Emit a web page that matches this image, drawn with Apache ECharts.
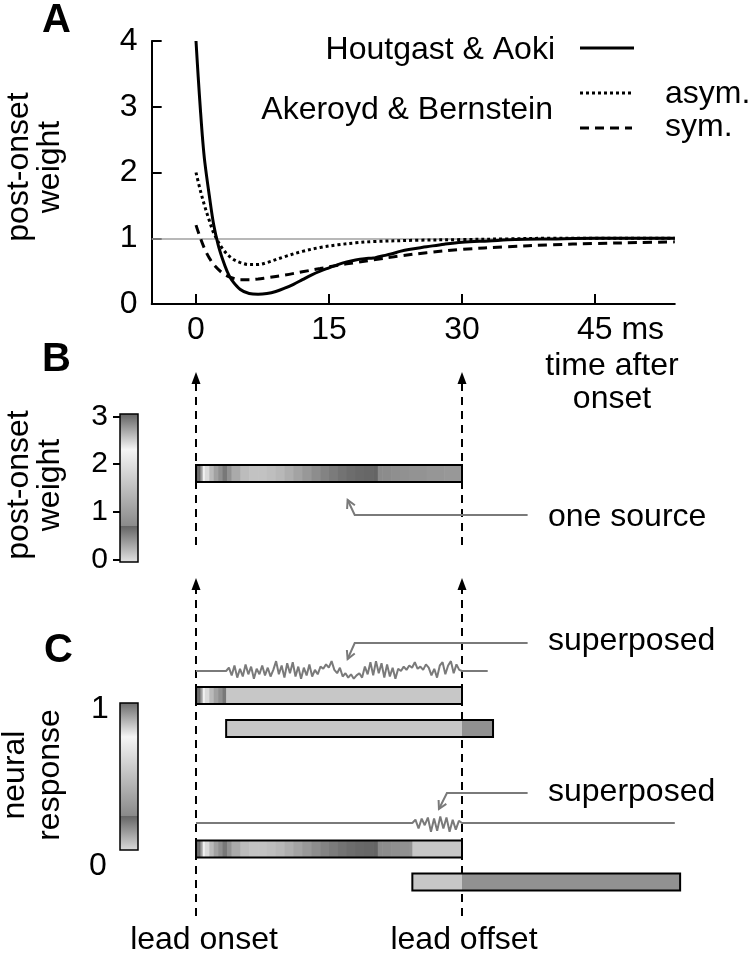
<!DOCTYPE html>
<html><head><meta charset="utf-8">
<script src="https://cdn.jsdelivr.net/npm/echarts@6/dist/echarts.min.js"></script>
<style>html,body{margin:0;padding:0;background:#fff}#c{width:750px;height:954px}</style>
</head><body><div id="c"></div>
<script>
// ---------------- data ----------------
const timeTicks = [0, 15, 30, 45];
const colorbarWeightTicks = [0, 1, 2, 3];
// Panel A: post-onset weight (Houtgast & Aoki, solid)
const houtgastT = [0,0.25,0.5,0.75,1,1.5,2,2.5,3,3.5,4,5,6,7,8,9,10,11,12,13,14,15,16,17,18,19,20,20.5,21,22,23,24,26,28,30,33,36,40,45,50,54];
const houtgastW = [4.0,3.45,2.95,2.5,2.15,1.65,1.2,0.9,0.68,0.5,0.37,0.22,0.16,0.15,0.16,0.19,0.24,0.3,0.37,0.44,0.5,0.55,0.6,0.64,0.67,0.69,0.70,0.715,0.73,0.76,0.8,0.83,0.87,0.91,0.94,0.96,0.98,0.99,1.0,1.0,1.0];
// Akeroyd & Bernstein, asymmetric (dotted)
const asymT = [0,0.5,1,1.5,2,3,4,5,6,7,8,10,12,14,16,18,20,25,30,35,40,45,50,54];
const asymW = [2.0,1.72,1.48,1.27,1.08,0.84,0.7,0.63,0.6,0.6,0.63,0.72,0.8,0.86,0.9,0.93,0.95,0.97,0.98,0.99,1.0,1.0,1.0,1.0];
// Akeroyd & Bernstein, symmetric (dashed)
const symT = [0,0.5,1,1.5,2,3,4,5,6,7,8,10,12,14,16,18,20,23,26,30,35,40,45,50,54];
const symW = [1.2,1.0,0.83,0.7,0.6,0.47,0.4,0.37,0.37,0.38,0.4,0.44,0.49,0.54,0.59,0.63,0.67,0.73,0.78,0.83,0.87,0.9,0.92,0.935,0.945];
// Panels B/C timing (ms)
const leadOnset = 0, leadOffset = 30;
const lag1 = [3.4, 33.5];
const lag2 = [24.4, 54.6];
const respLight = 0.54;   // neural response (0..1) of light-gray segments
const respMid = 0.27;     // neural response of mid-gray segments
// superposed response traces (fluctuation, arbitrary units)
const trace1 = {start: 0, noiseFrom: 3.4, noiseTo: 30, end: 32.9};
const noise1 = [0.3,-0.4,0.5,-0.6,0.2,-0.5,0.6,-0.3,0.4,-0.7,
  0.2,-0.3,0.5,-0.4,0.3,-0.5,0.1,0.9,-0.3,0.5,
  -0.6,0.7,-0.2,0.8,-0.5,0.4,-0.7,0.3,-0.4,0.6,
  -0.5,0.1,-0.3,0.4,0.2,0.6,0.3,0.9,0.1,-0.2,
  0.3,-0.5,-0.2,-0.6,-0.3,-0.7,-0.4,-0.2,-0.6,0.4,
  -0.3,0.8,-0.4,0.9,-0.2,0.7,-0.6,0.6,-0.5,0.3,
  -0.7,0.2,0.0,0.4,0.1,0.5,0.3,0.8,0.2,0.4,
  0.1,0.6,0.3,-0.4,0.2,-0.6,0.5,0.8,-0.3,0.5,
  0.9,-0.2,0.6,0.1];
const trace2 = {start: 0, noiseFrom: 24.4, noiseTo: 30, end: 54};
const noise2 = [0.3,-0.5,0.4,-0.2,0.5,-0.8,0.4,-0.7,0.6,-0.5,0.5,-0.8,0.3,-0.6,0.2];
// grey colormap (weight units 0..3)
const cmapValues = [0, 0.71, 0.71, 2.3, 3];
const cmapGrays  = [220, 100, 138, 245, 105];

// ---------------- layout ----------------
const FONT = '"Liberation Sans", Arial, sans-serif';
const X0 = 196, PXMS = 8.8667, XMIN = -5, XMAX = 54;
const GL = X0 + XMIN * PXMS, GW = (XMAX - XMIN) * PXMS;
const STRIP_H = 17;
const rowY = {B: 473.5, C1lead: 695.5, C1lag: 728.5, C2lead: 849, C2lag: 882};

function grayOf(w) {
  w = Math.max(0, Math.min(3, w));
  for (let i = 0; i < cmapValues.length - 1; i++) {
    const a = cmapValues[i], b = cmapValues[i + 1];
    if (b > a && w >= a && w <= b) {
      return Math.round(cmapGrays[i] + (w - a) / (b - a) * (cmapGrays[i + 1] - cmapGrays[i]));
    }
  }
  return cmapGrays[cmapGrays.length - 1];
}
const grayCss = g => `rgb(${g},${g},${g})`;

// cells of the weight curve between t0 and t1 (weight units)
function curveCells(t0, t1, y) {
  const out = [];
  for (let i = 0; i < houtgastT.length - 1; i++) {
    const a = Math.max(houtgastT[i], t0), b = Math.min(houtgastT[i + 1], t1);
    if (b > a) out.push([a, b, y, (houtgastW[i] + houtgastW[i + 1]) / 2]);
  }
  return out;
}
const cells = [].concat(
  curveCells(leadOnset, leadOffset, rowY.B),
  curveCells(leadOnset, lag1[0], rowY.C1lead),
  [[lag1[0], leadOffset, rowY.C1lead, respLight * 3]],
  [[lag1[0], leadOffset, rowY.C1lag, respLight * 3], [leadOffset, lag1[1], rowY.C1lag, respMid * 3]],
  curveCells(leadOnset, lag2[0], rowY.C2lead),
  [[lag2[0], leadOffset, rowY.C2lead, respLight * 3]],
  [[lag2[0], leadOffset, rowY.C2lag, respLight * 3], [leadOffset, lag2[1], rowY.C2lag, respMid * 3]]
);
const frames = [
  [leadOnset, leadOffset, rowY.B],
  [leadOnset, leadOffset, rowY.C1lead],
  [lag1[0], lag1[1], rowY.C1lag],
  [leadOnset, leadOffset, rowY.C2lead],
  [lag2[0], lag2[1], rowY.C2lag]
];
const dashedArrows = [
  [leadOnset, 545, 372], [leadOffset, 545, 372],
  [leadOnset, 916, 578], [leadOffset, 916, 578]
];
const annotArrows = [
  [37.4, 515, 17.9, 515, 17.1, 500],
  [37.4, 643, 17.9, 643, 17.1, 659],
  [37.4, 793, 28.3, 793, 27.4, 809]
];
function traceData(tr, noise) {
  const pts = [[tr.start, 0], [tr.noiseFrom, 0]];
  const n = noise.length;
  for (let i = 0; i < n; i++) {
    pts.push([tr.noiseFrom + (i + 1) * (tr.noiseTo - tr.noiseFrom) / (n + 1), noise[i]]);
  }
  pts.push([tr.noiseTo, 0], [tr.end, 0]);
  return pts;
}
function gradStops(lo, hi, scale) {
  const st = [{offset: 0, color: grayCss(grayOf(lo * scale))}];
  for (let i = 0; i < cmapValues.length; i++) {
    const off = (cmapValues[i] / scale - lo) / (hi - lo);
    if (off >= 0 && off <= 1) st.push({offset: off, color: grayCss(cmapGrays[i])});
  }
  st.push({offset: 1, color: grayCss(grayOf(hi * scale))});
  return st;
}

// ---------------- chart ----------------
const chart = echarts.init(document.getElementById('c'));
const hidX = (gi, min, max) => ({gridIndex: gi, type: 'value', min, max, show: false});
const hidY = (gi, min, max, inv) => ({gridIndex: gi, type: 'value', min, max, inverse: !!inv, show: false});

const txt = (x, y, text, o = {}) => ({
  type: 'text', x, y, rotation: o.rot || 0, z: 10,
  style: {text, fontSize: o.size || 32, fontFamily: FONT, fontWeight: o.bold ? 'bold' : 'normal',
    fill: '#000', align: o.align || 'center', verticalAlign: 'middle'}
});
const seg = (x1, y1, x2, y2, dash) => ({
  type: 'line', z: 10, shape: {x1, y1, x2, y2},
  style: {stroke: '#000', lineWidth: 3, lineDash: dash || null}
});

chart.setOption({
  animation: false,
  backgroundColor: '#fff',
  grid: [
    {left: GL, width: GW, top: 41, height: 263},
    {left: GL, width: GW, top: 0, height: 954},
    {left: 120, width: 18, top: 414, height: 148},
    {left: 120, width: 18, top: 703, height: 147},
    {left: GL, width: GW, top: 660, height: 22},
    {left: GL, width: GW, top: 812, height: 22}
  ],
  xAxis: [
    {gridIndex: 0, type: 'value', min: XMIN, max: XMAX,
      axisLine: {onZero: false, lineStyle: {color: '#000', width: 2}},
      axisTick: {inside: true, length: 10, customValues: timeTicks, lineStyle: {color: '#000', width: 2}},
      axisLabel: {customValues: timeTicks, fontSize: 32, fontFamily: FONT, color: '#000', margin: 10,
        formatter: v => v === 45 ? '{u|45 ms}' : String(v),
        rich: {u: {fontSize: 32, fontFamily: FONT, color: '#000', padding: [0, 0, 0, 51]}}},
      splitLine: {show: false}},
    hidX(1, XMIN, XMAX), hidX(2, 0, 1), hidX(3, 0, 1), hidX(4, XMIN, XMAX), hidX(5, XMIN, XMAX)
  ],
  yAxis: [
    {gridIndex: 0, type: 'value', min: 0, max: 4, interval: 1,
      axisLine: {show: true, onZero: false, lineStyle: {color: '#000', width: 2}},
      axisTick: {show: true, inside: true, length: 10, lineStyle: {color: '#000', width: 2}},
      axisLabel: {fontSize: 32, fontFamily: FONT, color: '#000', margin: 14},
      splitLine: {show: false}},
    hidY(1, 0, 954, true),
    {gridIndex: 2, type: 'value', min: -0.05, max: 3.05,
      axisLine: {show: false, onZero: false},
      axisTick: {show: true, length: 7, customValues: colorbarWeightTicks, lineStyle: {color: '#000', width: 2}},
      axisLabel: {customValues: colorbarWeightTicks, fontSize: 30, fontFamily: FONT, color: '#000', margin: 12},
      splitLine: {show: false}},
    hidY(3, 0, 1), hidY(4, -1, 1), hidY(5, -1, 1)
  ],
  series: [
    {type: 'line', name: 'Houtgast & Aoki', xAxisIndex: 0, yAxisIndex: 0, z: 5,
      data: houtgastT.map((t, i) => [t, houtgastW[i]]), showSymbol: false, smooth: 0.35,
      lineStyle: {color: '#000', width: 3},
      markLine: {silent: true, symbol: 'none', label: {show: false}, z: 1,
        lineStyle: {color: '#a0a0a0', width: 1.5, type: 'solid'}, data: [{yAxis: 1}]}},
    {type: 'line', name: 'asym.', xAxisIndex: 0, yAxisIndex: 0, z: 4,
      data: asymT.map((t, i) => [t, asymW[i]]), showSymbol: false, smooth: 0.35,
      lineStyle: {color: '#000', width: 3, type: [3, 3]}},
    {type: 'line', name: 'sym.', xAxisIndex: 0, yAxisIndex: 0, z: 4,
      data: symT.map((t, i) => [t, symW[i]]), showSymbol: false, smooth: 0.35,
      lineStyle: {color: '#000', width: 3, type: [9, 6]}},
    // dashed arrows at lead onset / offset
    {type: 'custom', xAxisIndex: 1, yAxisIndex: 1, z: 1, clip: false, silent: true,
      encode: {x: 0, y: [1, 2]}, data: dashedArrows,
      renderItem: (p, api) => {
        const pb = api.coord([api.value(0), api.value(1)]), pt = api.coord([api.value(0), api.value(2)]);
        return {type: 'group', children: [
          {type: 'line', shape: {x1: pb[0], y1: pb[1], x2: pt[0], y2: pt[1] + 9},
            style: {stroke: '#000', lineWidth: 2, lineDash: [8, 6]}},
          {type: 'polygon', shape: {points: [[pt[0], pt[1]], [pt[0] - 4.5, pt[1] + 12], [pt[0] + 4.5, pt[1] + 12]]},
            style: {fill: '#000'}}
        ]};
      }},
    // strip cells
    {type: 'custom', xAxisIndex: 1, yAxisIndex: 1, z: 2, clip: false, silent: true,
      encode: {x: [0, 1], y: 2}, data: cells,
      renderItem: (p, api) => {
        const y = api.value(2);
        const p0 = api.coord([api.value(0), y]), p1 = api.coord([api.value(1), y]);
        return {type: 'rect', shape: {x: p0[0], y: p0[1] - STRIP_H / 2, width: p1[0] - p0[0] + 0.6, height: STRIP_H},
          style: {fill: grayCss(grayOf(api.value(3)))}};
      }},
    // strip frames
    {type: 'custom', xAxisIndex: 1, yAxisIndex: 1, z: 3, clip: false, silent: true,
      encode: {x: [0, 1], y: 2}, data: frames,
      renderItem: (p, api) => {
        const y = api.value(2);
        const p0 = api.coord([api.value(0), y]), p1 = api.coord([api.value(1), y]);
        return {type: 'rect', shape: {x: p0[0], y: p0[1] - STRIP_H / 2, width: p1[0] - p0[0], height: STRIP_H},
          style: {fill: 'none', stroke: '#000', lineWidth: 2}};
      }},
    // annotation arrows
    {type: 'custom', xAxisIndex: 1, yAxisIndex: 1, z: 2, clip: false, silent: true,
      encode: {x: [0, 2, 4], y: [1, 3, 5]}, data: annotArrows,
      renderItem: (p, api) => {
        const a = api.coord([api.value(0), api.value(1)]), b = api.coord([api.value(2), api.value(3)]),
              c = api.coord([api.value(4), api.value(5)]);
        const dx = c[0] - b[0], dy = c[1] - b[1], L = Math.hypot(dx, dy), ux = dx / L, uy = dy / L;
        const head = ang => {
          const cs = Math.cos(ang), sn = Math.sin(ang);
          const rx = ux * cs - uy * sn, ry = ux * sn + uy * cs;
          return [c[0] - 9 * rx, c[1] - 9 * ry];
        };
        const h1 = head(0.5), h2 = head(-0.5);
        const st = {stroke: '#7a7a7a', lineWidth: 2, fill: 'none'};
        return {type: 'group', children: [
          {type: 'polyline', shape: {points: [a, b, c]}, style: st},
          {type: 'polyline', shape: {points: [h1, c, h2]}, style: st}
        ]};
      }},
    // colorbar B (weight 0..3)
    {type: 'custom', xAxisIndex: 2, yAxisIndex: 2, z: 2, clip: false, silent: true,
      encode: {x: [0, 2], y: [1, 3]}, data: [[0, -0.05, 1, 3.05]],
      renderItem: (p, api) => {
        const p0 = api.coord([api.value(0), api.value(1)]), p1 = api.coord([api.value(2), api.value(3)]);
        return {type: 'rect', shape: {x: p0[0], y: p1[1], width: p1[0] - p0[0], height: p0[1] - p1[1]},
          style: {fill: new echarts.graphic.LinearGradient(0, 1, 0, 0, gradStops(-0.05, 3.05, 1)),
            stroke: '#000', lineWidth: 1.5}};
      }},
    // colorbar C (response 0..1)
    {type: 'custom', xAxisIndex: 3, yAxisIndex: 3, z: 2, clip: false, silent: true,
      encode: {x: [0, 2], y: [1, 3]}, data: [[0, 0, 1, 1]],
      renderItem: (p, api) => {
        const p0 = api.coord([api.value(0), api.value(1)]), p1 = api.coord([api.value(2), api.value(3)]);
        return {type: 'rect', shape: {x: p0[0], y: p1[1], width: p1[0] - p0[0], height: p0[1] - p1[1]},
          style: {fill: new echarts.graphic.LinearGradient(0, 1, 0, 0, gradStops(0, 1, 3)),
            stroke: '#000', lineWidth: 1.5}};
      }},
    // superposed traces
    {type: 'line', xAxisIndex: 4, yAxisIndex: 4, z: 2, data: traceData(trace1, noise1), showSymbol: false,
      lineStyle: {color: '#7a7a7a', width: 2}, silent: true},
    {type: 'line', xAxisIndex: 5, yAxisIndex: 5, z: 2, data: traceData(trace2, noise2), showSymbol: false,
      lineStyle: {color: '#7a7a7a', width: 2}, silent: true}
  ],
  graphic: {elements: [
    txt(42, 21, 'A', {bold: true, size: 40, align: 'left'}),
    txt(42, 360, 'B', {bold: true, size: 40, align: 'left'}),
    txt(44, 651, 'C', {bold: true, size: 40, align: 'left'}),
    txt(19, 167, 'post-onset', {rot: Math.PI / 2}),
    txt(50, 167, 'weight', {rot: Math.PI / 2}),
    txt(19, 485, 'post-onset', {rot: Math.PI / 2}),
    txt(50, 485, 'weight', {rot: Math.PI / 2}),
    txt(15, 775, 'neural', {rot: Math.PI / 2}),
    txt(50, 775, 'response', {rot: Math.PI / 2}),
    txt(100, 709, '1'),
    txt(98, 866, '0'),
    txt(612, 366, 'time after'),
    txt(612, 399, 'onset'),
    txt(204, 940, 'lead onset'),
    txt(464, 940, 'lead offset'),
    txt(548, 517, 'one source', {align: 'left'}),
    txt(548, 641, 'superposed', {align: 'left'}),
    txt(548, 792, 'superposed', {align: 'left'}),
    txt(555, 50, 'Houtgast & Aoki', {align: 'right'}),
    txt(553, 110, 'Akeroyd & Bernstein', {align: 'right'}),
    txt(665, 94, 'asym.', {align: 'left'}),
    txt(665, 127, 'sym.', {align: 'left'}),
    seg(580, 48, 634, 48),
    seg(580, 93, 633, 93, [3, 3]),
    seg(580, 128, 632, 128, [9, 6])
  ]}
});
</script>
</body></html>
